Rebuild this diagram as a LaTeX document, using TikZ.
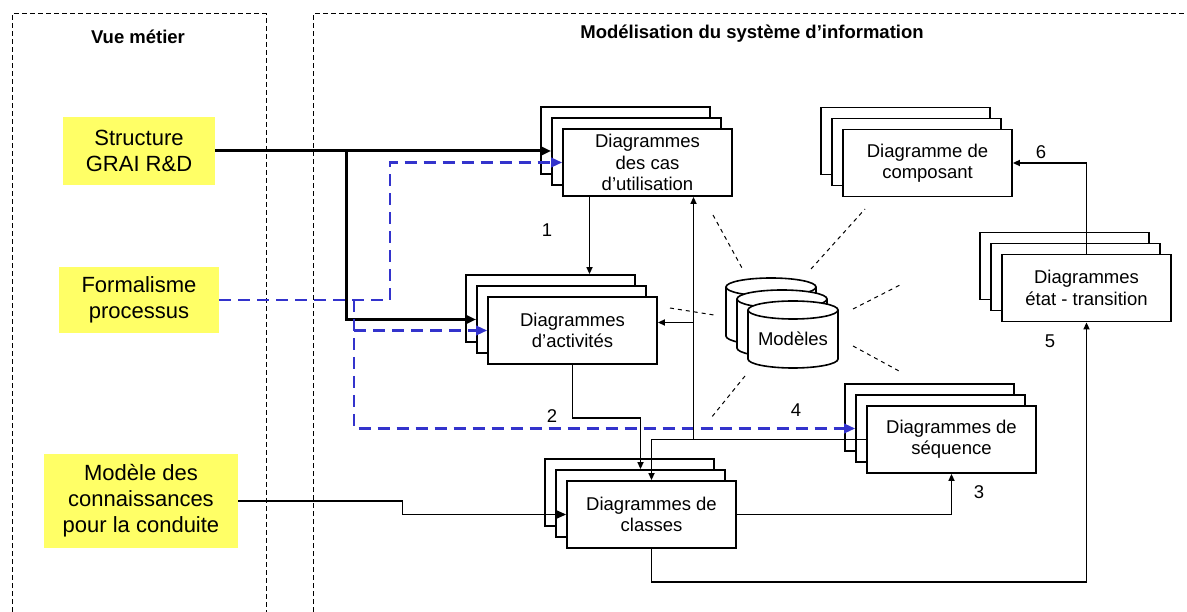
\documentclass[tikz,border=0pt]{standalone}
\usepackage{fontspec}
\setmainfont{Liberation Sans}
\usetikzlibrary{arrows.meta}
\usetikzlibrary{shadows}
\definecolor{myellow}{RGB}{255,255,102}
\definecolor{mblue}{RGB}{51,51,204}

\tikzset{
  frame/.style={line width=1pt, dash pattern=on 5pt off 3pt},
  heading/.style={font=\fontsize{18.5}{22}\selectfont\bfseries},
  source/.style={fill=myellow, align=center, inner sep=0pt, font=\fontsize{22}{26}\selectfont},
  diag/.style={draw, fill=white, line width=1.8pt, align=center, inner sep=0pt,
    minimum width=169pt, minimum height=67pt, font=\fontsize{18.5}{21.3}\selectfont,
    copy shadow={shadow xshift=-22pt, shadow yshift=22pt, fill=white, draw=black},
    copy shadow={shadow xshift=-11pt, shadow yshift=11pt, fill=white, draw=black}},
  num/.style={font=\fontsize{18.5}{22}\selectfont},
  link/.style={line width=1.6pt, -{Triangle[length=7pt,width=6pt]}},
  feed/.style={line width=1.6pt, -{Triangle[length=11pt,width=9.5pt]}},
  main/.style={line width=3pt, -{Triangle[length=11pt,width=9.5pt]}},
  web/.style={draw=mblue, line width=2.3pt, dash pattern=on 12pt off 7pt,
    -{Triangle[length=11pt,width=9.5pt]}},
  spoke/.style={line width=1pt, dash pattern=on 4pt off 4pt},
}

\begin{document}
\begin{tikzpicture}[x=1pt, y=-1pt]
  \useasboundingbox (0,0) rectangle (1187,612);

  % the two views
  \draw[frame] (12,612) -- (12,14) -- (266,14) -- (266,612);
  \draw[frame] (313,612) -- (313,14) -- (1187,14);
  \node[heading] (metier) at (138,37) {Vue métier};
  \node[heading] (si) at (752,34) {Modélisation du système d’information};

  % inputs
  \node[source, minimum width=152pt, minimum height=68pt] (grai) at (139,151) {Structure\\GRAI R\&D};
  \node[source, minimum width=160pt, minimum height=66pt] (proc) at (139,300) {Formalisme\\processus};
  \node[source, minimum width=194pt, minimum height=94pt] (pilot) at (141,501) {Modèle des\\connaissances\\pour la conduite};

  % diagrams
  \node[diag] (uc) at (647.5,162.5) {Diagrammes\\des cas\\d’utilisation};
  \node[diag] (comp) at (927.5,163) {Diagramme de\\composant};
  \node[diag] (etat) at (1086.5,288) {Diagrammes\\état - transition};
  \node[diag] (act) at (572.5,330.5) {Diagrammes\\d’activités};
  \node[diag] (seq) at (951.5,439.5) {Diagrammes de\\séquence};
  \node[diag] (cls) at (651.5,514.5) {Diagrammes de\\classes};

  % models store
  \foreach \dx/\dy in {0/0, 11/12, 22/23} {
    \filldraw[fill=white, line width=1.6pt] (726+\dx,287+\dy) -- ++(0,49)
      arc[start angle=180, end angle=0, x radius=45, y radius=9] -- ++(0,-49)
      arc[start angle=0, end angle=-180, x radius=45, y radius=9] -- cycle;
    \draw[line width=1.6pt] (726+\dx,287+\dy)
      arc[start angle=180, end angle=0, x radius=45, y radius=9];
  }
  \node[num] (models) at (793,339) {Modèles};
  \foreach \xa/\ya/\xb/\yb in {713/215/742/268, 811/269/865/209, 853/309/902/284,
      853/346/899/371, 745/376/711/418, 670/308/714/315}
    \draw[spoke] (\xa,\ya) -- (\xb,\yb);

  % points on the copies behind the boxes
  \coordinate (ucmid) at ([shift={(-11pt,11pt)}]uc.west);
  \coordinate (actmid) at ([shift={(-11pt,11pt)}]act.west);
  \coordinate (acttop) at ([yshift=22pt]act.north);
  \coordinate (clsmid) at ([shift={(-11pt,11pt)}]cls.north);
  \coordinate (seqmid) at ([shift={(-11pt,11pt)}]seq.west);
  \coordinate (actin) at ([yshift=8pt]act.east);
  \coordinate (ucfoot) at ([xshift=46pt]uc.south);
  \coordinate (fork) at (346,151);
  \coordinate (wbend) at (390,300);
  \coordinate (wfork) at (354,300);
  \coordinate (kbend) at (402.5,501);

  % inputs to the diagrams
  \draw[main] (grai.east) -- (grai.east -| ucmid);
  \draw[main] (fork) |- (actmid);
  \draw[web] (proc.east) -- (wbend) |- (uc.west);
  \draw[web] (wfork) |- (seqmid);
  \draw[web] (wfork |- act.west) -- (act.west);
  \draw[feed] (pilot.east) -- (kbend) |- (cls.west);

  % steps
  \draw[link] ([xshift=-58pt]uc.south) -- ([xshift=-58pt]uc.south |- acttop);
  \draw[link] (act.south) -- ++(0,53) -| (clsmid);
  \draw[link] (seq.west) -| (ucfoot);
  \draw[link] (ucfoot |- actin) -- (actin);
  \draw[link] (ucfoot |- seq.west) -| (cls.north);
  \draw[link] (cls.east) -| (seq.south);
  \draw[link] (cls.south) -- ++(0,33) -| (etat.south);
  \draw[link] (etat.north) |- (comp.east);

  \node[num] (n1) at (547,230) {1};
  \node[num] (n2) at (552,416) {2};
  \node[num] (n3) at (979,492) {3};
  \node[num] (n4) at (796,410) {4};
  \node[num] (n5) at (1050,341) {5};
  \node[num] (n6) at (1041,152) {6};
\end{tikzpicture}
\end{document}
